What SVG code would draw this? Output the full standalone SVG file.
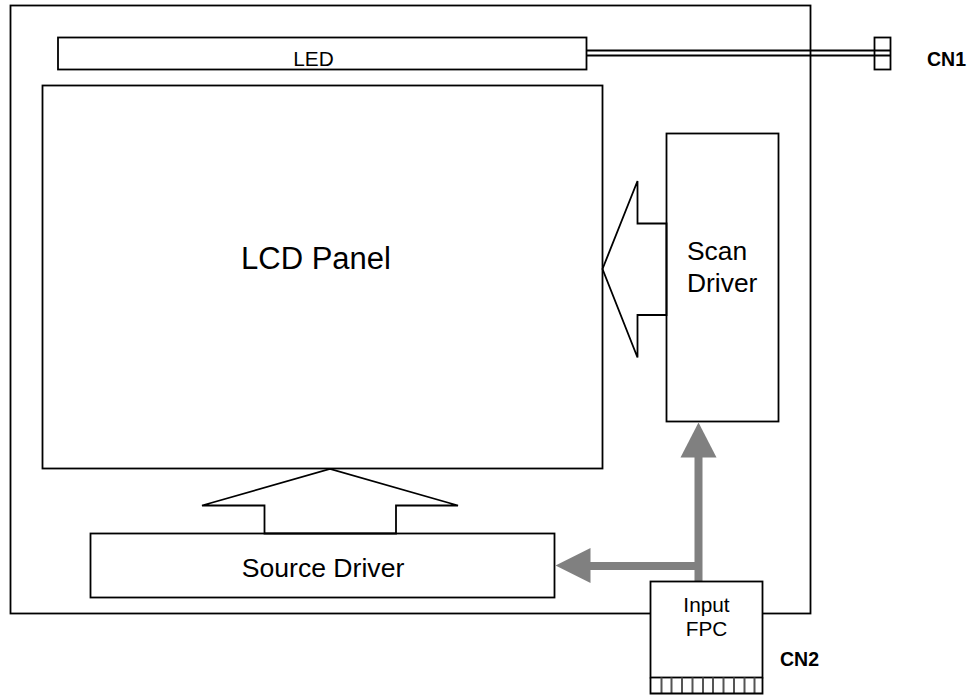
<svg xmlns="http://www.w3.org/2000/svg" width="974" height="695" viewBox="0 0 974 695">
<style>
.b{fill:#fff;stroke:#000;stroke-width:1.8}
.l{fill:none;stroke:#000;stroke-width:1.8}
.d{fill:none;stroke:#000;stroke-width:2.2}
.t{fill:none;stroke:#555;stroke-width:2}
.g{fill:none;stroke:#808080;stroke-width:8}
.h{fill:#808080;stroke:none}
text{font-family:"Liberation Sans",Arial,sans-serif;fill:#000}
.c{font-weight:bold;font-size:19.500px}
</style>
<rect width="974" height="695" fill="#fff"/>
<g id="frame"><rect class="b" x="10.500" y="5.500" width="800" height="608"/></g>
<g id="led">
<rect class="b" x="58" y="37.500" width="528.500" height="32"/>
<text x="313.500" y="66" font-size="20.800" text-anchor="middle">LED</text>
</g>
<g id="cn1">
<rect class="b" x="874.500" y="37.500" width="16" height="32"/>
<text class="c" x="927" y="66">CN1</text>
</g>
<g id="lcd-panel">
<rect class="b" x="42.500" y="85.500" width="560" height="383"/>
<text x="316" y="269" font-size="31" text-anchor="middle">LCD Panel</text>
</g>
<g id="scan-driver">
<rect class="b" x="666.500" y="133.500" width="112" height="288"/>
<text x="687" y="260" font-size="26.400">Scan</text>
<text x="687" y="292" font-size="26.400">Driver</text>
</g>
<g id="source-driver">
<rect class="b" x="90.500" y="533.500" width="464" height="64"/>
<text x="323" y="577" font-size="26.600" text-anchor="middle">Source Driver</text>
</g>
<g id="connectors">
<path class="d" d="M586.500 50.500H890.500M586.500 55.500H890.500"/>
<path class="l" d="M666.500 223.500H637.500V181L602.500 269L637.500 357.500V315H666.500Z"/>
<path class="l" d="M264.500 533.500V505.500H202L330 469L458 505.500H396V533.500Z"/>
<path class="g" d="M698.500 581V456M698.500 566H590"/>
<polygon class="h" points="698.500,422.500 716.500,457.500 680.500,457.500"/>
<polygon class="h" points="555.500,565.500 590.500,548 590.500,583"/>
</g>
<g id="input-fpc">
<rect class="b" x="650.500" y="581.500" width="112" height="96"/>
<text x="706.500" y="612" font-size="20.800" text-anchor="middle">Input</text>
<text x="706.500" y="636" font-size="20.800" text-anchor="middle">FPC</text>
<path class="t" d="M661.500 677.500V693M671.500 677.500V693M682 677.500V693M692.500 677.500V693M703 677.500V693M713 677.500V693M723.500 677.500V693M734 677.500V693M744.500 677.500V693M754.500 677.500V693"/>
<path class="l" d="M650.500 677.500V693.500H762.500V677.500"/>
<text class="c" x="780" y="666">CN2</text>
</g>
</svg>
